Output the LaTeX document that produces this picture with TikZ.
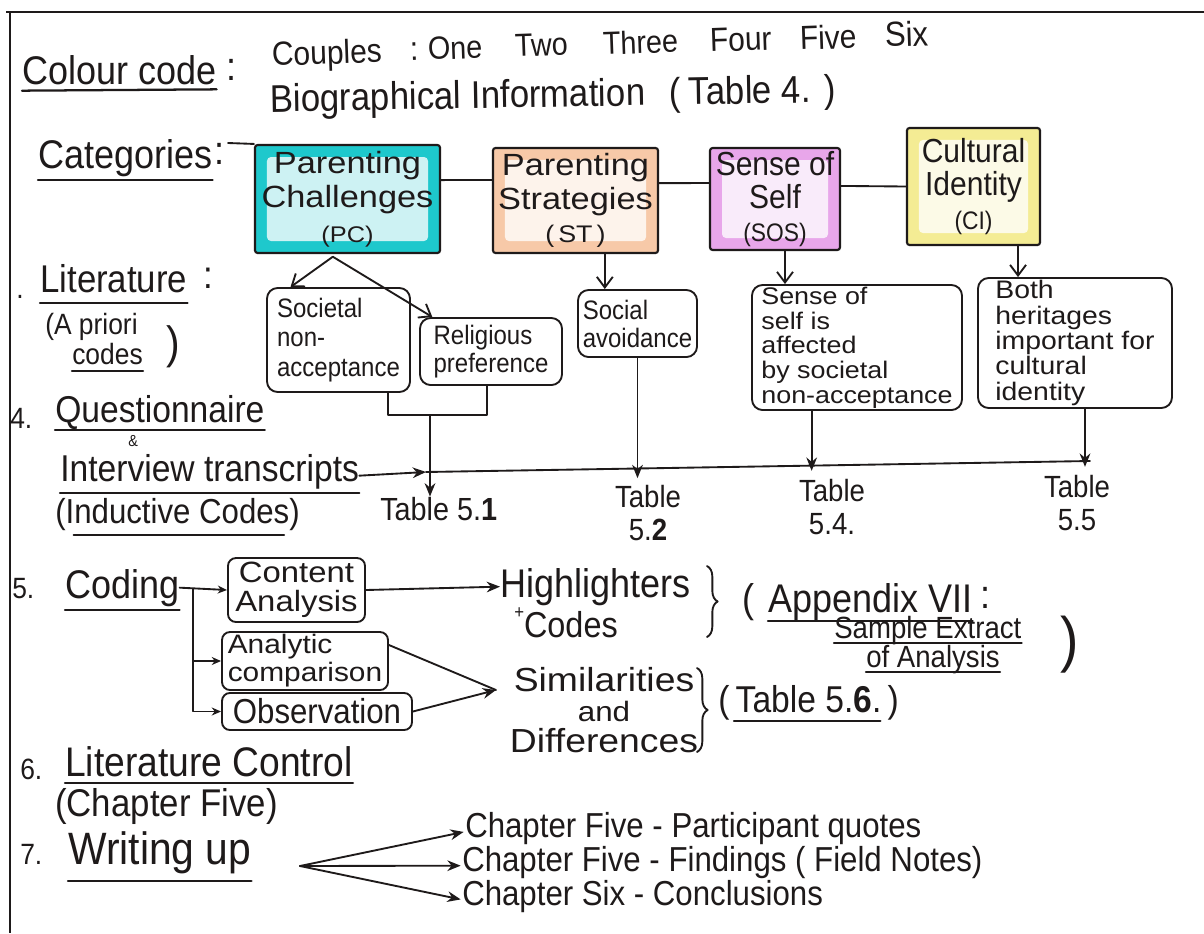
\documentclass[tikz,border=0pt]{standalone}
\usepackage{fontspec}
\setmainfont[FakeStretch=0.9]{Liberation Sans}
\newfontfamily\wide[FakeStretch=1.12]{Liberation Sans}
\usetikzlibrary{arrows.meta,decorations.pathreplacing}
\definecolor{ink}{HTML}{1E1A1A}
\definecolor{pcC}{HTML}{1EC8CC}
\definecolor{stC}{HTML}{F7C9A8}
\definecolor{sosC}{HTML}{E8A6EA}
\definecolor{ciC}{HTML}{F4EC94}
\newcommand\fsz[2]{\fontsize{#1}{#2}\selectfont\lineskiplimit=-100pt\relax}
\tikzset{
 inkl/.style={draw=ink, line width=1.4pt, line cap=round, line join=round},
 oarr/.style={inkl, -{Straight Barb[length=8pt,width=12pt]}},
 farr/.style={inkl, -{Stealth[length=10pt,width=8pt]}},
 sarr/.style={inkl, -{Stealth[length=7pt,width=6pt]}},
 lab/.style={anchor=base west, inner sep=0pt, text=ink, font=\fsz{#1}{#1}},
 lab/.default=28,
 ul/.style={draw=ink, line width=1.7pt, line cap=round},
 catbox/.style={draw=ink, line width=1.6pt, fill=#1, rounded corners=2pt, align=center, inner sep=2pt, text=ink,
   path picture={\fill[white,opacity=0.78,rounded corners=3pt] ([shift={(9pt,-9pt)}]path picture bounding box.north west) rectangle ([shift={(-9pt,9pt)}]path picture bounding box.south east);}},
 litbox/.style={draw=ink, line width=1.4pt, rounded corners=8pt, align=left, inner sep=3pt, text=ink},
 brc/.style={inkl, decorate, decoration={brace, amplitude=8pt}},
 tab/.style={align=center, inner sep=1pt, text=ink, font=\fsz{23}{25}},
}
\begin{document}
\begin{tikzpicture}[x=0.75pt,y=-0.75pt]
\useasboundingbox (0,0) rectangle (1204,933);
\fill[white] (0,0) rectangle (1204,933);
% frame
\draw[ink, line width=2pt] (6,12) -- (1204,12);
\draw[ink, line width=2pt] (10,12) -- (10,933);

% ---- colour code
\node[lab=30] (cc) at (22,84) {Colour code};
\node[lab=30] (cc2) at (226,80) {:};
\node[lab=25, rotate=2] (w1) at (272,66) {Couples};
\node[lab=25, rotate=2] (w2) at (410,61) {:};
\node[lab=24, rotate=2] (w3) at (428,60) {One};
\node[lab=24, rotate=2] (w4) at (515,57) {Two};
\node[lab=24, rotate=2] (w5) at (603,55) {Three};
\node[lab=25, rotate=2] (w6) at (710,52) {Four};
\node[lab=25, rotate=2] (w7) at (800,50) {Five};
\node[lab=26, rotate=2] (w8) at (885,47) {Six};
\node[lab=29, rotate=1] (bio) at (270,112) {Biographical Information\hspace{18pt}(\hspace{6pt}Table 4.\hspace{10pt})};

% ---- categories
\node[lab=30] (cat) at (38,168) {Categories};
\node[lab=30] (cat2) at (214,164) {:};
\coordinate (catl) at (228,143);
\node[catbox=pcC, minimum width=138.8pt, minimum height=81pt, font=\wide\fsz{23}{26}] (pc) at (347.5,199) {Parenting\\Challenges\\{\fsz{17}{17}(PC)}};
\node[catbox=stC, minimum width=123.8pt, minimum height=78.8pt, font=\wide\fsz{23}{25}] (st) at (575.5,200.5) {Parenting\\Strategies\\{\fsz{18}{18}(\,ST\,)}};
\node[catbox=sosC, minimum width=97.5pt, minimum height=76.5pt, font=\fsz{25}{25}] (sos) at (775,199) {Sense of\\Self\\{\fsz{19}{19}(SOS)}};
\node[catbox=ciC, minimum width=99.8pt, minimum height=87.8pt, font=\fsz{25}{25}] (ci) at (973.5,186.5) {Cultural\\Identity\\{\fsz{19}{19}(CI)}};

% ---- literature
\node[lab=22] (n3) at (16,298) {.};
\node[lab=29] (lit) at (40,292) {Literature};
\node[lab=29] (lit2) at (203,288) {:};
\node[lab=22] (apr) at (45,334) {(A priori};
\node[lab=22] (codes) at (72,364) {codes};
\node[lab=34] (rp0) at (166,358) {)};
\node[litbox, font=\fsz{20}{22}, minimum width=107.3pt, minimum height=78pt] (soc) at (338.5,340) {Societal\\non-\\acceptance};
\node[litbox, font=\fsz{20}{21}, minimum width=106.5pt, minimum height=50.3pt] (rel) at (491,351.5) {Religious\\preference};
\node[litbox, font=\fsz{20}{21}, minimum width=89.3pt, minimum height=50.3pt, inner sep=1pt] (sa) at (637.5,323.5) {Social\\avoidance};
\node[litbox, font=\wide\fsz{18}{18.5}, minimum width=157.5pt, minimum height=93.8pt, inner sep=1pt] (se) at (857,347.5) {Sense of\\self is\\affected\\by societal\\non-acceptance};
\node[litbox, font=\wide\fsz{19}{19}, minimum width=145.5pt, minimum height=97.5pt, inner sep=1pt] (bo) at (1075,343) {Both\\heritages\\important for\\cultural\\identity};

% ---- questionnaire
\node[lab=22] (n4) at (10,428) {4.};
\node[lab=28] (qu) at (55,422) {Questionnaire};
\node[lab=12] (amp) at (128,446) {\&};
\node[lab=28] (iv) at (60,481) {Interview transcripts};
\node[lab=26] (ind) at (55,523) {(Inductive Codes)};
\node[lab=24] (t1) at (380,520) {Table 5.\textbf{1}};
\node[tab] (t2) at (648,513) {Table\\5.\textbf{2}};
\node[tab] (t4) at (832,507) {Table\\5.4.};
\node[tab] (t5) at (1077,503) {Table\\5.5};
\coordinate (bj) at (430,415);
\coordinate (harr) at (426,472);
\coordinate (hend) at (1090,461);

% ---- coding
\node[lab=22] (n5) at (12,598) {5.};
\node[lab=30] (coding) at (65,598) {Coding};
\node[litbox, rounded corners=6pt, align=center, inner sep=1pt, font=\wide\fsz{22}{22}, minimum width=102.8pt, minimum height=48pt] (ca) at (296.5,590) {Content\\Analysis};
\node[litbox, rounded corners=6pt, inner sep=1pt, font=\wide\fsz{20}{21}, minimum width=124.5pt, minimum height=43.5pt] (ac) at (305,661) {Analytic\\comparison};
\node[litbox, rounded corners=6pt, inner sep=1pt, font=\fsz{26}{26}, minimum width=142.5pt, minimum height=27.8pt] (ob) at (317,711.5) {Observation};
\coordinate (cj) at (193,589);
\node[lab=30] (hl) at (500,597) {Highlighters};
\node[lab=27] (cod) at (514,637) {{\fsz{14}{14}\raisebox{14pt}{+}}Codes};
\coordinate (b1t) at (707,566);
\coordinate (b1b) at (707,637);
\node[lab=30] (lp1) at (742,612) {(};
\node[lab=30] (app) at (768,612) {Appendix VII};
\node[lab=30] (col3) at (980,608) {:};
\node[lab=23] (smp) at (834,638) {Sample Extract};
\node[lab=23] (ofa) at (866,667) {of Analysis};
\node[lab=46] (rp1) at (1060,660) {)};
\node[align=center, inner sep=0pt, text=ink, font=\wide\fsz{25}{23}] (sim) at (604,710) {Similarities\\{\fsz{21}{23}and}\\Differences};
\coordinate (cv) at (496,690);
\coordinate (b2t) at (697,668);
\coordinate (b2b) at (697,752);
\node[lab=28] (t6) at (718,712) {(\,Table 5.\textbf{6}.\,)};

% ---- literature control, writing up
\node[lab=22] (n6) at (20,779) {6.};
\node[lab=31] (lc) at (65,776) {Literature Control};
\node[lab=29] (chf) at (55,816) {(Chapter Five)};
\node[lab=22] (n7) at (20,864) {7.};
\node[lab=34] (wu) at (68,864) {Writing up};
\coordinate (ws) at (300,866);
\node[lab=26] (ch1) at (465,837) {Chapter Five - Participant quotes};
\node[lab=26] (ch2) at (462,871) {Chapter Five - Findings ( Field Notes)};
\node[lab=26] (ch3) at (462,905) {Chapter Six - Conclusions};

% ---- underlines
\draw[ul] ([yshift=-5pt]cc.base west) -- ([yshift=-4pt]cc.base east);
\draw[ul] ([yshift=-9pt]cat.base west) -- ([yshift=-9pt]cat.base east);
\draw[ul] ([yshift=-8pt]lit.base west) -- ([yshift=-8pt]lit.base east);
\draw[ul] ([yshift=-5pt]codes.base west) -- ([yshift=-5pt]codes.base east);
\draw[ul] ([yshift=-6pt]qu.base west) -- ([yshift=-6pt]qu.base east);
\draw[ul] ([yshift=-9pt]iv.base west) -- ([yshift=-9pt]iv.base east);
\draw[ul] ([xshift=14pt,yshift=-9pt]ind.base west) -- ([xshift=-12pt,yshift=-9pt]ind.base east);
\draw[ul] ([yshift=-9pt]coding.base west) -- ([yshift=-9pt]coding.base east);
\draw[ul] ([yshift=-7pt]app.base west) -- ([yshift=-7pt]app.base east);
\draw[ul] ([yshift=-4pt]smp.base west) -- ([yshift=-4pt]smp.base east);
\draw[ul] ([yshift=-4pt]ofa.base west) -- ([yshift=-4pt]ofa.base east);
\draw[ul] ([xshift=12pt,yshift=-7pt]t6.base west) -- ([xshift=-14pt,yshift=-7pt]t6.base east);
\draw[ul] ([yshift=-5pt]lc.base west) -- ([yshift=-5pt]lc.base east);
\draw[ul] ([yshift=-13pt]wu.base west) -- ([yshift=-13pt]wu.base east);

% ---- connectors
\draw[inkl] (catl) -- (pc.north west);
\draw[inkl] ([yshift=14.2pt]pc.east) -- ([yshift=15.4pt]st.west);
\draw[inkl] ([yshift=13pt]st.east) -- ([yshift=12pt]sos.west);
\draw[inkl] ([yshift=9.8pt]sos.east) -- (ci.west);
\draw[oarr] ([xshift=-11pt,yshift=-2pt]pc.south) -- ([xshift=-36pt]soc.north);
\draw[oarr] ([xshift=-11pt,yshift=-2pt]pc.south) -- ([xshift=-44pt]rel.north);
\draw[oarr] ([xshift=22pt]st.south) -- ([xshift=22pt]st.south |- sa.north);
\draw[oarr] ([xshift=7.5pt]sos.south) -- ([xshift=7.5pt]sos.south |- se.north);
\draw[oarr] ([xshift=33.4pt]ci.south) -- ([xshift=33.4pt]ci.south |- bo.north);
\draw[inkl] ([xshift=37pt]soc.south) |- (bj) -| ([xshift=-3pt]rel.south);
\draw[farr] (bj) -- (bj |- t1.north);
\draw[farr] ([yshift=4pt]iv.base east) -- (harr);
\draw[inkl] (harr) -- (hend);
\draw[farr] (sa.south) -- ([yshift=4pt]sa.south |- t2.north);
\draw[farr] ([xshift=-34pt]se.south) -- ([xshift=-34pt,yshift=5pt]se.south |- t4.north);
\draw[farr] ([xshift=7.5pt]bo.south) -- ([xshift=7.5pt,yshift=5pt]bo.south |- t5.north);

\draw[sarr] (coding.east) -- (ca.west);
\draw[sarr] (cj) |- (ob.west);
\draw[sarr] (cj |- ac.west) -- (ac.west);
\draw[farr] (ca.east) -- (hl.west);
\draw[inkl] ([yshift=12pt]ac.east) -- (cv);
\draw[farr] (ob.east) -- (cv);
\draw[brc] (b1t) -- (b1b);
\draw[brc] (b2t) -- (b2b);

\draw[farr, shorten >=1pt] (ws) -- ([yshift=4pt]ch1.base west);
\draw[farr, shorten >=1pt] (ws) -- ([yshift=4pt]ch2.base west);
\draw[farr, shorten >=1pt] (ws) -- ([yshift=4pt]ch3.base west);
\end{tikzpicture}
\end{document}
